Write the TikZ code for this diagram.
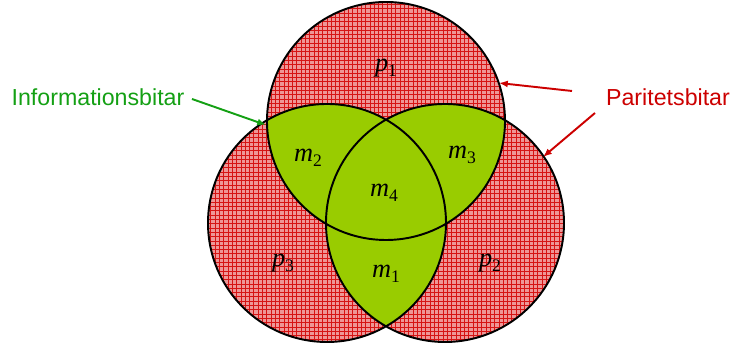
\documentclass[tikz,border=0pt]{standalone}
\usepackage{fontspec}
\setmainfont{Liberation Serif}
\newfontfamily\calloutfont{Liberation Sans}
\usepackage{tikz}
\usetikzlibrary{arrows.meta}
\definecolor{paritypink}{RGB}{238,150,150}
\definecolor{paritygrid}{RGB}{214,20,20}
\definecolor{infogreen}{RGB}{153,204,0}
\definecolor{infotext}{RGB}{20,160,20}
\definecolor{paritytext}{RGB}{204,0,0}
\newcommand{\bitlbl}[2]{\textit{#1}\raisebox{-0.4ex}{\fontsize{10}{10}\selectfont #2}}
\newcommand{\rad}{119}

\begin{document}
\begin{tikzpicture}[x=0.02cm,y=0.02cm]
\tikzstyle{every node}=[inner sep=1pt,font=\fontsize{15}{17}\selectfont]
\tikzstyle{callout}=[font=\calloutfont\fontsize{13.2}{15}\selectfont]
\tikzstyle{pointer}=[line width=1.1pt,-{Latex[length=5pt,width=4pt]}]
\useasboundingbox (0,0) rectangle (735,344);
\coordinate (ct) at (386,223);
\coordinate (cl) at (327,121);
\coordinate (cr) at (445,121);
\fill[paritypink] (ct) circle (\rad) (cl) circle (\rad) (cr) circle (\rad);
\begin{scope}
\clip (ct) circle (\rad) (cl) circle (\rad) (cr) circle (\rad);
\draw[paritygrid,line width=0.3pt,step=4.3] (200,0) grid (570,344);
\end{scope}
\begin{scope}
\clip (ct) circle (\rad);
\fill[infogreen] (cl) circle (\rad) (cr) circle (\rad);
\end{scope}
\begin{scope}
\clip (cl) circle (\rad);
\fill[infogreen] (cr) circle (\rad);
\end{scope}
\draw[line width=1.1pt] (ct) circle (\rad) (cl) circle (\rad) (cr) circle (\rad);
\node (p1) at (386,276) {\bitlbl{p}{1}};
\node (m2) at (308,186) {\bitlbl{m}{2}};
\node (m3) at (462,189) {\bitlbl{m}{3}};
\node (m4) at (384,151) {\bitlbl{m}{4}};
\node (p3) at (283,81) {\bitlbl{p}{3}};
\node (m1) at (386,70) {\bitlbl{m}{1}};
\node (p2) at (490,81) {\bitlbl{p}{2}};
\node[callout,text=infotext] (info) at (98,247) {Informationsbitar};
\node[callout,text=paritytext] (par) at (668,247) {Paritetsbitar};
\coordinate (gs) at (192,245);
\coordinate (ge) at (266,219);
\coordinate (r1s) at (572,253);
\coordinate (r1e) at (499,261);
\coordinate (r2s) at (595,231);
\coordinate (r2e) at (543,187);
\draw[pointer,infotext] (gs) -- (ge);
\draw[pointer,paritytext] (r1s) -- (r1e);
\draw[pointer,paritytext] (r2s) -- (r2e);
\end{tikzpicture}
\end{document}
